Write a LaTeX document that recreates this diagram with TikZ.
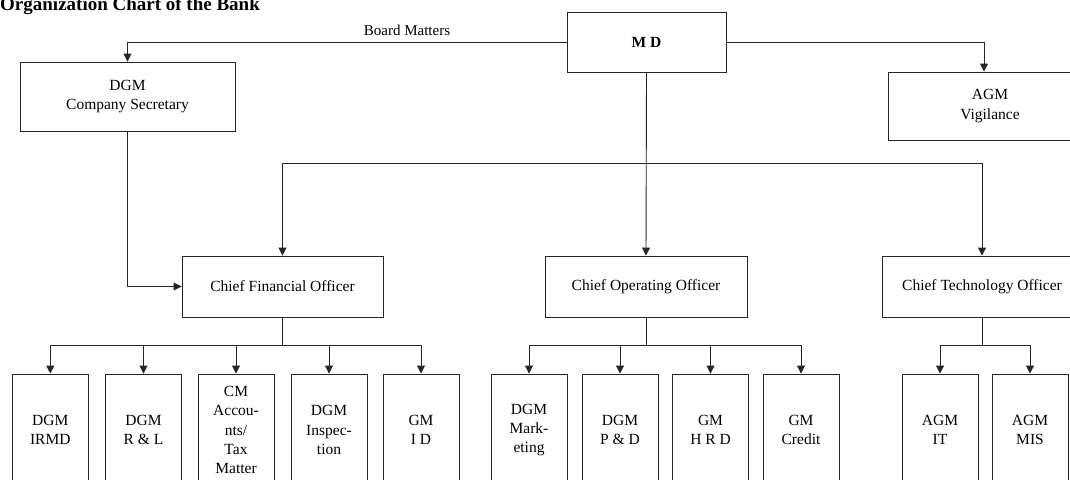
\documentclass[tikz,border=0pt]{standalone}
\usepackage{fontspec}
\setmainfont{Liberation Serif}
\usetikzlibrary{arrows.meta}
\begin{document}
\begin{tikzpicture}[x=1pt,y=-1pt,
  box/.style={draw=black!85, line width=0.9pt, align=center, inner sep=0pt,
    font=\fontsize{15.5}{19.3}\selectfont},
  low/.style={box, minimum width=76pt, minimum height=112pt},
  link/.style={draw=black!85, line width=0.9pt},
  arr/.style={link, -{Triangle[width=8pt,length=8pt]}},
]
\useasboundingbox (0,0) rectangle (1070,479);
\fill[white] (0,0) rectangle (1070,479);

\node[anchor=base west, inner sep=0pt, font=\bfseries\fontsize{19}{22}\selectfont] (title) at (0,10) {Organization Chart of the Bank};

% top level
\node[box, minimum width=159pt, minimum height=60pt] (md) at (646.5,42) {\textbf{M D}};
\node[box, minimum width=215pt, minimum height=69pt] (cs) at (127.5,96.5) {DGM\\Company Secretary};
\node[box, minimum width=204pt, minimum height=68pt] (vig) at (990,106) {AGM\\Vigilance};

% chiefs
\node[box, minimum width=201pt, minimum height=61pt] (cfo) at (282.5,286.5) {Chief Financial Officer};
\node[box, minimum width=202pt, minimum height=61pt] (coo) at (646,286.5) {Chief Operating Officer};
\node[box, minimum width=200pt, minimum height=61pt] (cto) at (982,286.5) {Chief Technology Officer};

% lower boxes
\node[low] (irmd) at (50.3,430) {DGM\\IRMD};
\node[low] (rl)   at (143.5,430) {DGM\\R \& L};
\node[low] (cm)   at (236,430) {CM\\Accou-\\nts/\\Tax\\Matter};
\node[low] (insp) at (329,430) {DGM\\Inspec-\\tion};
\node[low] (id)   at (421,430) {GM\\I D};

\node[low] (mkt)  at (529,430) {DGM\\Mark-\\eting};
\node[low] (pd)   at (620,430) {DGM\\P \& D};
\node[low] (hrd)  at (710.5,430) {GM\\H R D};
\node[low] (cr)   at (801,430) {GM\\Credit};

\node[low] (it)   at (940,430) {AGM\\IT};
\node[low] (mis)  at (1030,430) {AGM\\MIS};

% label
\node[inner sep=0pt, font=\fontsize{15}{18}\selectfont] (bm) at (407,30) {Board Matters};

% connectors from MD
\draw[arr] (md.west) -| (cs.north);
\draw[arr] (md.east) -| ([xshift=-6pt]vig.north);
\coordinate (bus) at (646,163.5);
\draw[arr] (md.south) -- (coo.north);
\draw[arr] (bus) -| (cfo.north);
\draw[arr] (bus) -| (cto.north);
\draw[arr] (cs.south) |- (cfo.west);

% CFO group
\coordinate (fb) at (282.5,345);
\draw[link] (cfo.south) -- (fb);
\foreach \n in {irmd,rl,cm,insp,id} \draw[arr] (fb) -| (\n.north);

% COO group
\coordinate (ob) at (646,345);
\draw[link] (coo.south) -- (ob);
\foreach \n in {mkt,pd,hrd,cr} \draw[arr] (ob) -| (\n.north);

% CTO group
\coordinate (tb) at (982,345);
\draw[link] (cto.south) -- (tb);
\foreach \n in {it,mis} \draw[arr] (tb) -| (\n.north);
\end{tikzpicture}
\end{document}
